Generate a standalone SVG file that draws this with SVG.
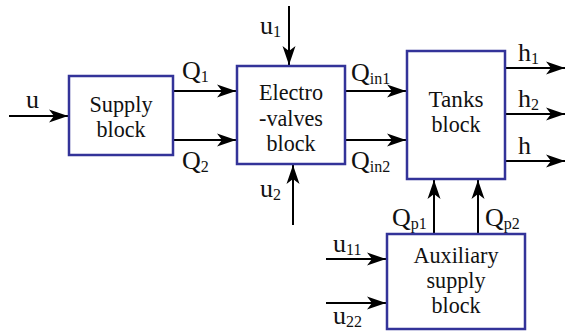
<svg xmlns="http://www.w3.org/2000/svg" width="566" height="331" viewBox="0 0 566 331">
<defs>
<marker id="arr" markerUnits="userSpaceOnUse" markerWidth="24" markerHeight="16" viewBox="-20 -8 24 16" refX="0" refY="0" orient="auto">
<path d="M-19,-6.5 L0,0 L-19,6.5 L-14,0 z" fill="#000"/>
</marker>
</defs>
<style>
.box{fill:#fff;stroke:#333399;stroke-width:2.5}
.t{font-family:"Liberation Serif","Times New Roman",serif;font-size:24px;fill:#111}
.l{font-size:26px}
.c{text-anchor:middle}
.s{font-size:16px}
.ln{stroke:#000;stroke-width:2;fill:none;marker-end:url(#arr)}
</style>
<g id="connectors">
<line class="ln" x1="9" y1="116" x2="68" y2="116"/>
<line class="ln" x1="174" y1="91" x2="236" y2="91"/>
<line class="ln" x1="174" y1="140" x2="236" y2="140"/>
<line class="ln" x1="289" y1="6" x2="289" y2="65"/>
<line class="ln" x1="293" y1="225" x2="293" y2="165"/>
<line class="ln" x1="346" y1="91" x2="406" y2="91"/>
<line class="ln" x1="346" y1="140" x2="406" y2="140"/>
<line class="ln" x1="506" y1="68" x2="565" y2="68"/>
<line class="ln" x1="506" y1="114" x2="565" y2="114"/>
<line class="ln" x1="506" y1="161" x2="565" y2="161"/>
<line class="ln" x1="434" y1="233" x2="434" y2="180"/>
<line class="ln" x1="478" y1="233" x2="478" y2="180"/>
<line class="ln" x1="326" y1="259" x2="386" y2="259"/>
<line class="ln" x1="326" y1="303" x2="386" y2="303"/>
<text class="t l" x="26" y="108">u</text>
<text class="t l" x="182" y="79">Q<tspan class="s" dy="3">1</tspan></text>
<text class="t l" x="182" y="169">Q<tspan class="s" dy="3">2</tspan></text>
<text class="t l" x="260" y="34">u<tspan class="s" dy="3">1</tspan></text>
<text class="t l" x="260" y="197">u<tspan class="s" dy="3">2</tspan></text>
<text class="t l" x="351" y="81">Q<tspan class="s" dy="3">in1</tspan></text>
<text class="t l" x="351" y="169">Q<tspan class="s" dy="3">in2</tspan></text>
<text class="t l" x="518" y="61">h<tspan class="s" dy="3">1</tspan></text>
<text class="t l" x="518" y="107">h<tspan class="s" dy="3">2</tspan></text>
<text class="t l" x="518" y="154">h</text>
<text class="t l" x="392" y="226">Q<tspan class="s" dy="3">p1</tspan></text>
<text class="t l" x="485" y="226">Q<tspan class="s" dy="3">p2</tspan></text>
<text class="t l" x="333" y="252">u<tspan class="s" dy="3">11</tspan></text>
<text class="t l" x="333" y="324">u<tspan class="s" dy="3">22</tspan></text>
</g>
<g id="supply">
<rect class="box" x="69" y="76" width="104" height="79"/>
<text class="t c" x="121" y="112" textLength="63" lengthAdjust="spacingAndGlyphs">Supply</text>
<text class="t c" x="121" y="137" textLength="49" lengthAdjust="spacingAndGlyphs">block</text>
</g>
<g id="electrovalves">
<rect class="box" x="237" y="66" width="108" height="98"/>
<text class="t c" x="291" y="100" textLength="64" lengthAdjust="spacingAndGlyphs">Electro</text>
<text class="t c" x="291" y="126" textLength="64" lengthAdjust="spacingAndGlyphs">-valves</text>
<text class="t c" x="291" y="151" textLength="49" lengthAdjust="spacingAndGlyphs">block</text>
</g>
<g id="tanks">
<rect class="box" x="407" y="51" width="98" height="128"/>
<text class="t c" x="456" y="107" textLength="55" lengthAdjust="spacingAndGlyphs">Tanks</text>
<text class="t c" x="456" y="132" textLength="49" lengthAdjust="spacingAndGlyphs">block</text>
</g>
<g id="auxiliary">
<rect class="box" x="387" y="234" width="138" height="95"/>
<text class="t c" x="456" y="263" textLength="85" lengthAdjust="spacingAndGlyphs">Auxiliary</text>
<text class="t c" x="456" y="288" textLength="59" lengthAdjust="spacingAndGlyphs">supply</text>
<text class="t c" x="456" y="313" textLength="49" lengthAdjust="spacingAndGlyphs">block</text>
</g>
</svg>
